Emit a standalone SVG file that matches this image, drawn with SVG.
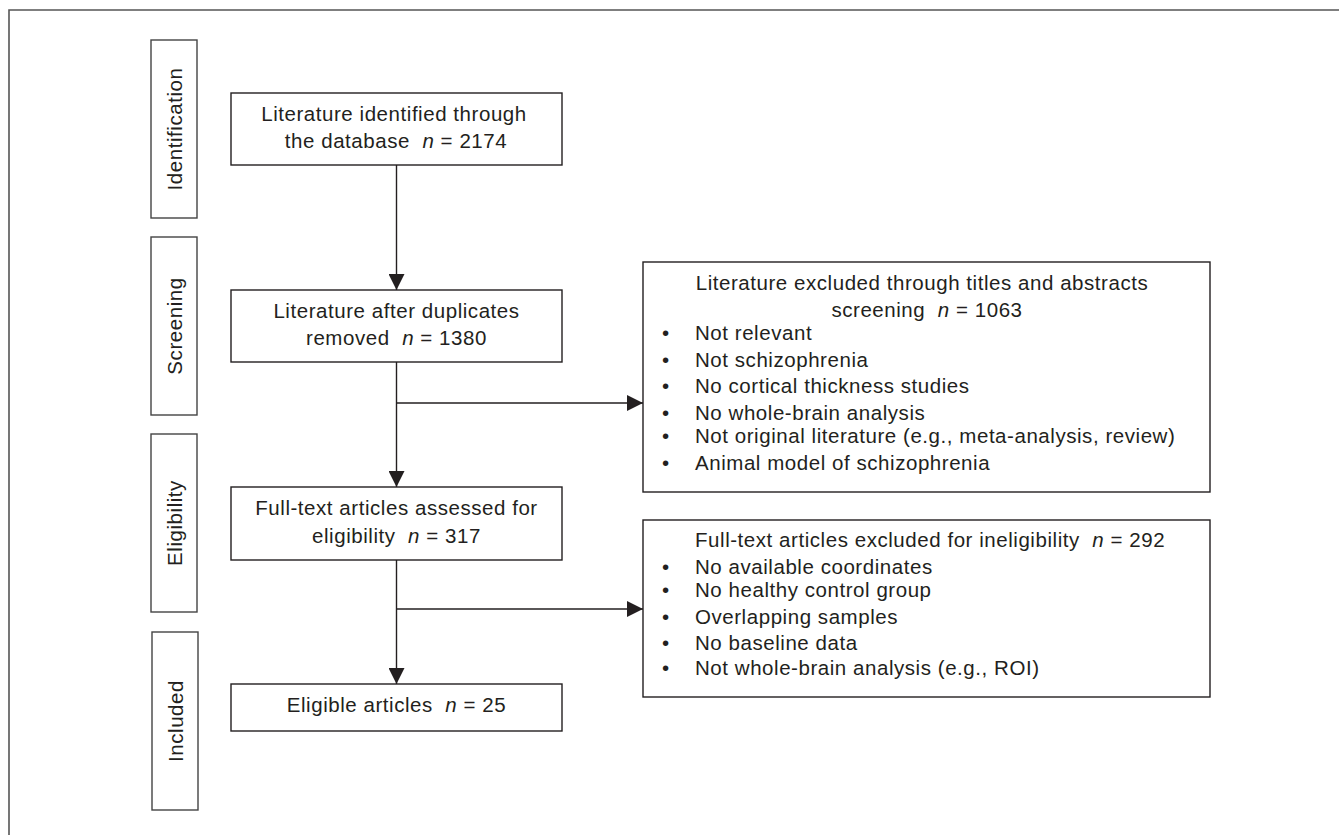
<svg xmlns="http://www.w3.org/2000/svg" width="1339" height="835" viewBox="0 0 1339 835">
<style>
text{font-family:"Liberation Sans",Arial,sans-serif;font-size:20.5px;letter-spacing:0.55px;fill:#231f20;white-space:pre}
.box{fill:#fff;stroke:#231f20;stroke-width:1.4}
.stage{fill:#fff;stroke:#444;stroke-width:1.4}
.c{text-anchor:middle}
.ln{fill:none;stroke:#231f20;stroke-width:1.4}
.i{font-style:italic}
</style>
<defs>
<marker id="ah" markerUnits="userSpaceOnUse" markerWidth="16" markerHeight="16" refX="16" refY="8" orient="auto">
<path d="M0,0 L16,8 L0,16 Z" fill="#231f20"/>
</marker>
</defs>
<rect width="1339" height="835" fill="#fff"/>
<path d="M9,835 V10 H1339" fill="none" stroke="#555" stroke-width="1.6"/>

<g id="stage-identification">
<rect class="stage" x="151" y="40" width="46" height="178"/>
<text class="c" transform="translate(181.5,129) rotate(-90)">Identification</text>
</g>
<g id="stage-screening">
<rect class="stage" x="151" y="237" width="46" height="178"/>
<text class="c" transform="translate(181.5,326) rotate(-90)">Screening</text>
</g>
<g id="stage-eligibility">
<rect class="stage" x="151" y="434" width="46" height="178"/>
<text class="c" transform="translate(181.5,523) rotate(-90)">Eligibility</text>
</g>
<g id="stage-included">
<rect class="stage" x="152" y="632" width="46" height="178"/>
<text class="c" transform="translate(182.5,721) rotate(-90)">Included</text>
</g>

<g id="identified">
<rect class="box" x="231" y="93" width="331" height="72"/>
<text class="c" x="394" y="120.5">Literature identified through</text>
<text class="c" x="396" y="147.5">the database  <tspan class="i">n</tspan> = 2174</text>
</g>
<g id="deduplicated">
<rect class="box" x="231" y="290" width="331" height="72"/>
<text class="c" x="396.5" y="318">Literature after duplicates</text>
<text class="c" x="396.5" y="345">removed  <tspan class="i">n</tspan> = 1380</text>
</g>
<g id="fulltext">
<rect class="box" x="231" y="487" width="331" height="73"/>
<text class="c" x="396.5" y="515">Full-text articles assessed for</text>
<text class="c" x="396.5" y="542.5">eligibility  <tspan class="i">n</tspan> = 317</text>
</g>
<g id="eligible">
<rect class="box" x="231" y="684" width="331" height="47"/>
<text class="c" x="396.5" y="711.5">Eligible articles  <tspan class="i">n</tspan> = 25</text>
</g>

<g id="excluded-screening">
<rect class="box" x="643" y="262" width="567" height="230"/>
<text class="c" x="922" y="290">Literature excluded through titles and abstracts</text>
<text class="c" x="927" y="316.5">screening  <tspan class="i">n</tspan> = 1063</text>
<text x="662" y="340">•</text><text x="695" y="340">Not relevant</text>
<text x="662" y="366.5">•</text><text x="695" y="366.5">Not schizophrenia</text>
<text x="662" y="393">•</text><text x="695" y="393">No cortical thickness studies</text>
<text x="662" y="419.5">•</text><text x="695" y="419.5">No whole-brain analysis</text>
<text x="662" y="443">•</text><text x="695" y="443">Not original literature (e.g., meta-analysis, review)</text>
<text x="662" y="469.5">•</text><text x="695" y="469.5">Animal model of schizophrenia</text>
</g>
<g id="excluded-eligibility">
<rect class="box" x="643" y="520" width="567" height="177"/>
<text x="695" y="547">Full-text articles excluded for ineligibility  <tspan class="i">n</tspan> = 292</text>
<text x="662" y="573.5">•</text><text x="695" y="573.5">No available coordinates</text>
<text x="662" y="597">•</text><text x="695" y="597">No healthy control group</text>
<text x="662" y="623.5">•</text><text x="695" y="623.5">Overlapping samples</text>
<text x="662" y="650">•</text><text x="695" y="650">No baseline data</text>
<text x="662" y="675">•</text><text x="695" y="675">Not whole-brain analysis (e.g., ROI)</text>
</g>

<g id="connectors">
<line class="ln" x1="396.5" y1="165" x2="396.5" y2="290" marker-end="url(#ah)"/>
<line class="ln" x1="396.5" y1="362" x2="396.5" y2="487" marker-end="url(#ah)"/>
<line class="ln" x1="396.5" y1="403" x2="643" y2="403" marker-end="url(#ah)"/>
<line class="ln" x1="396.5" y1="560" x2="396.5" y2="684" marker-end="url(#ah)"/>
<line class="ln" x1="396.5" y1="609" x2="643" y2="609" marker-end="url(#ah)"/>
</g>
</svg>
